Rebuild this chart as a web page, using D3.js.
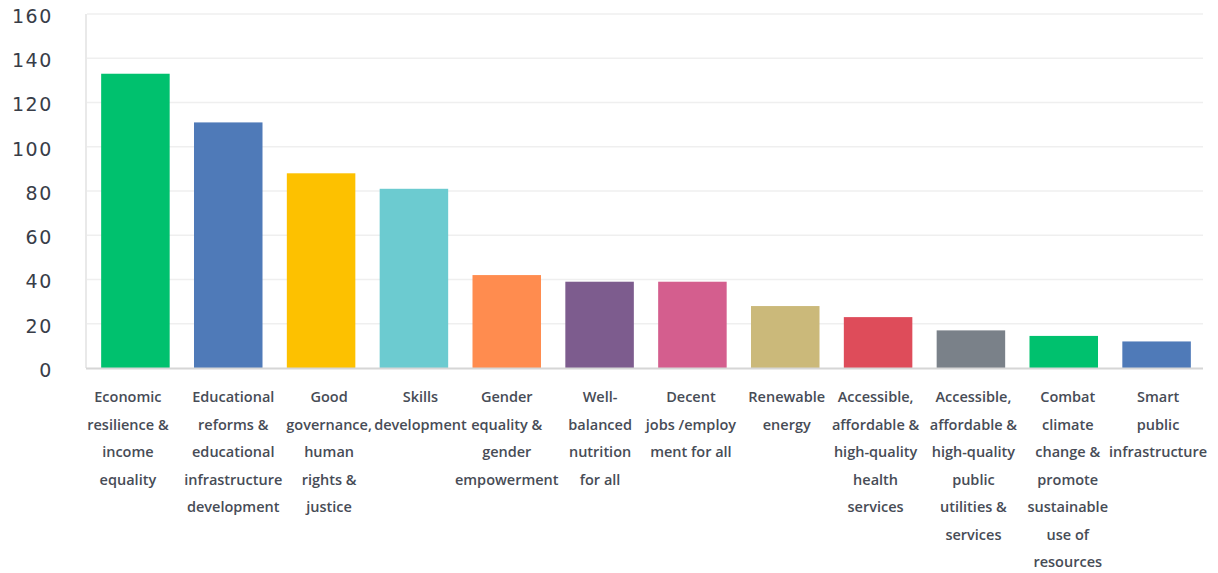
<!DOCTYPE html>
<html><head><meta charset="utf-8">
<script src="https://cdn.jsdelivr.net/npm/d3@7"></script>
<style>
html,body{margin:0;padding:0;background:#fff;}
svg{display:block;}
</style></head>
<body>
<svg id="chart" width="1218" height="573"></svg>
<script>
const categories = [
  "Economic resilience & income equality",
  "Educational reforms & educational infrastructure development",
  "Good governance, human rights & justice",
  "Skills development",
  "Gender equality & gender empowerment",
  "Well-balanced nutrition for all",
  "Decent jobs /employment for all",
  "Renewable energy",
  "Accessible, affordable & high-quality health services",
  "Accessible, affordable & high-quality public utilities & services",
  "Combat climate change & promote sustainable use of resources",
  "Smart public infrastructure"
];
const labelLines = [
  ["Economic","resilience &","income","equality"],
  ["Educational","reforms &","educational","infrastructure","development"],
  ["Good","governance,","human","rights &","justice"],
  ["Skills","development"],
  ["Gender","equality &","gender","empowerment"],
  ["Well-","balanced","nutrition","for all"],
  ["Decent","jobs /employ","ment for all"],
  ["Renewable","energy"],
  ["Accessible,","affordable &","high-quality","health","services"],
  ["Accessible,","affordable &","high-quality","public","utilities &","services"],
  ["Combat","climate","change &","promote","sustainable","use of","resources"],
  ["Smart","public","infrastructure"]
];
const values = [133, 111, 88, 81, 42, 39, 39, 28, 23, 17, 14.5, 12];
const colors = ["#00C16E","#4F7AB8","#FDC100","#6CCBD0","#FF8C4F","#7D5C8E","#D45E8E","#CBB97A","#DE4C5A","#7A8189","#00C16E","#4F7AB8"];
const yTicks = [0, 20, 40, 60, 80, 100, 120, 140, 160];
// layout: small horizontal nudges of the wrapped category labels (px)
const labelNudge = [-7.5, 5, 8, 6.5, 0, 0.5, -1.5, 1.5, -2.5, 2.5, 4, 1.5];

const svg = d3.select("#chart");
const mLeft = 87, mRight = 1203, mTop = 14, mBottom = 368;

const x = d3.scaleBand().domain(categories).range([mLeft + 2, mRight]).paddingInner(0.262).paddingOuter(0.131);
const y = d3.scaleLinear().domain([0, 160]).range([mBottom, mTop]);

// gridlines
svg.append("g").selectAll("line").data(yTicks.filter(d => d > 0)).join("line")
  .attr("x1", mLeft).attr("x2", mRight)
  .attr("y1", d => y(d)).attr("y2", d => y(d))
  .attr("stroke", "#efefef").attr("stroke-width", 1.5);

// left axis line
svg.append("line").attr("x1", mLeft - 1).attr("x2", mLeft - 1).attr("y1", mTop).attr("y2", mBottom)
  .attr("stroke", "#e2e2e2").attr("stroke-width", 1.5);

// y axis labels
const yAxis = d3.axisLeft(y).tickValues(yTicks).tickSize(0).tickPadding(0);
const gy = svg.append("g").attr("transform", `translate(53,1.5)`).call(yAxis);
gy.select(".domain").remove();
gy.selectAll("text")
  .attr("font-family", "'DejaVu Sans', sans-serif")
  .attr("font-size", 19).attr("fill", "#383d48")
  .attr("letter-spacing", "1.6px").attr("dy", "0.36em");

// bars
svg.append("g").selectAll("rect").data(values).join("rect")
  .attr("x", (d, i) => x(categories[i]))
  .attr("width", x.bandwidth())
  .attr("y", d => y(d))
  .attr("height", d => y(0) - y(d))
  .attr("fill", (d, i) => colors[i]);

// baseline
svg.append("line").attr("x1", mLeft - 1).attr("x2", mRight).attr("y1", mBottom + 0.5).attr("y2", mBottom + 0.5)
  .attr("stroke", "#d6d6d6").attr("stroke-width", 2);

// x labels
const gx = svg.append("g");
categories.forEach((c, i) => {
  const cx = x(c) + x.bandwidth() / 2 + labelNudge[i];
  const t = gx.append("text")
    .attr("x", cx)
    .attr("y", 397)
    .attr("text-anchor", "middle")
    .attr("font-family", "'Open Sans', sans-serif")
    .attr("font-weight", 600)
    .attr("font-size", 14.5)
    .attr("fill", "#474c56");
  labelLines[i].forEach((ln, j) => {
    t.append("tspan").attr("x", cx)
      .attr("y", 397 + j * 27.5).attr("dy", "0.35em").text(ln);
  });
});
</script>
</body></html>
